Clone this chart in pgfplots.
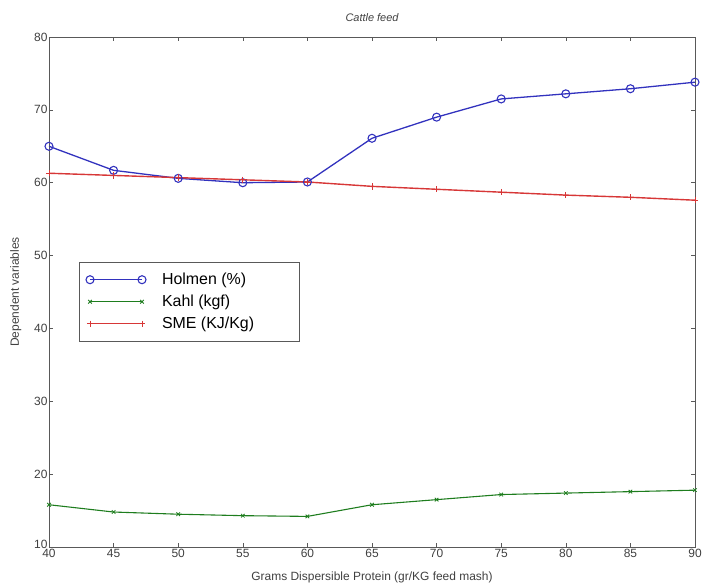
\documentclass[border=0pt]{standalone}
\usepackage{fontspec}
\setmainfont{Liberation Sans}
\usepackage{pgfplots}
\pgfplotsset{compat=1.18}
\definecolor{cblue}{RGB}{50,50,190}
\definecolor{cgreen}{RGB}{30,125,30}
\definecolor{cred}{RGB}{215,55,55}
\begin{document}
\begin{tikzpicture}[x=1bp,y=1bp]
\path[use as bounding box] (-49bp,-38bp) rectangle (655bp,547bp);
\begin{axis}[
  at={(0,0)}, anchor=south west,
  scale only axis, width=646bp, height=510bp,
  xmin=40, xmax=90, ymin=10, ymax=80,
  xtick={40,45,...,90}, ytick={10,20,...,80},
  yticklabels={\raisebox{5bp}{10},20,30,40,50,60,70,80},
  tick pos=both, tick align=inside, major tick length=4bp,
  axis line style={gray!70!black, line width=0.6pt},
  tick style={gray!70!black, line width=0.5pt},
  /pgf/number format/assume math mode=true,
  ticklabel style={font=\fontsize{12}{13}\selectfont, text=black!75},
  xticklabel style={yshift=1bp},
  yticklabel style={xshift=2bp},
  xlabel={Grams Dispersible Protein (gr/KG feed mash)},
  ylabel={Dependent variables},
  xlabel style={font=\fontsize{12}{13}\selectfont, text=black!75, at={(axis description cs:0.5,0)}, anchor=north, yshift=-21bp},
  ylabel style={font=\fontsize{12}{13}\selectfont, text=black!75, at={(axis description cs:0,0.5)}, anchor=south, yshift=24bp},
  title={Cattle feed},
  title style={font=\itshape\fontsize{11}{12}\selectfont, text=black!75, at={(axis description cs:0.5,1)}, anchor=south, yshift=6bp},
  legend style={at={(0.046,0.559)}, anchor=north west, draw=gray!70!black, line width=0.6pt,
    font=\fontsize{16}{17}\selectfont, row sep=5bp, inner xsep=7bp, inner ysep=9bp,
    cells={anchor=west}},
  legend image code/.code={\draw[mark repeat=2, mark phase=1, #1] plot coordinates {(0bp,0bp) (26bp,0bp) (52bp,0bp)};},
  legend cell align=left,
]
\addplot[cblue, line width=1.3pt, mark=o, mark size=4bp, mark options={line width=1.1pt}] coordinates {
(40,65.0) (45,61.7) (50,60.6) (55,60.0) (60,60.1) (65,66.1) (70,69.0) (75,71.5) (80,72.2) (85,72.9) (90,73.8)};
\addlegendentry{\hspace*{14bp}Holmen (\%)}
\addplot[cgreen, line width=1.1pt, mark=x, mark size=2.5bp, mark options={line width=0.8pt}] coordinates {
(40,15.8) (45,14.8) (50,14.5) (55,14.3) (60,14.2) (65,15.8) (70,16.5) (75,17.2) (80,17.4) (85,17.6) (90,17.8)};
\addlegendentry{\hspace*{14bp}Kahl (kgf)}
\addplot[cred, line width=1.4pt, mark=+, mark size=3.2bp, mark options={line width=0.9pt}] coordinates {
(40,61.3) (45,61.0) (50,60.7) (55,60.4) (60,60.1) (65,59.5) (70,59.1) (75,58.7) (80,58.3) (85,58.0) (90,57.6)};
\addlegendentry{\hspace*{14bp}SME (KJ/Kg)\hspace*{36bp}}
\end{axis}
\end{tikzpicture}
\end{document}
